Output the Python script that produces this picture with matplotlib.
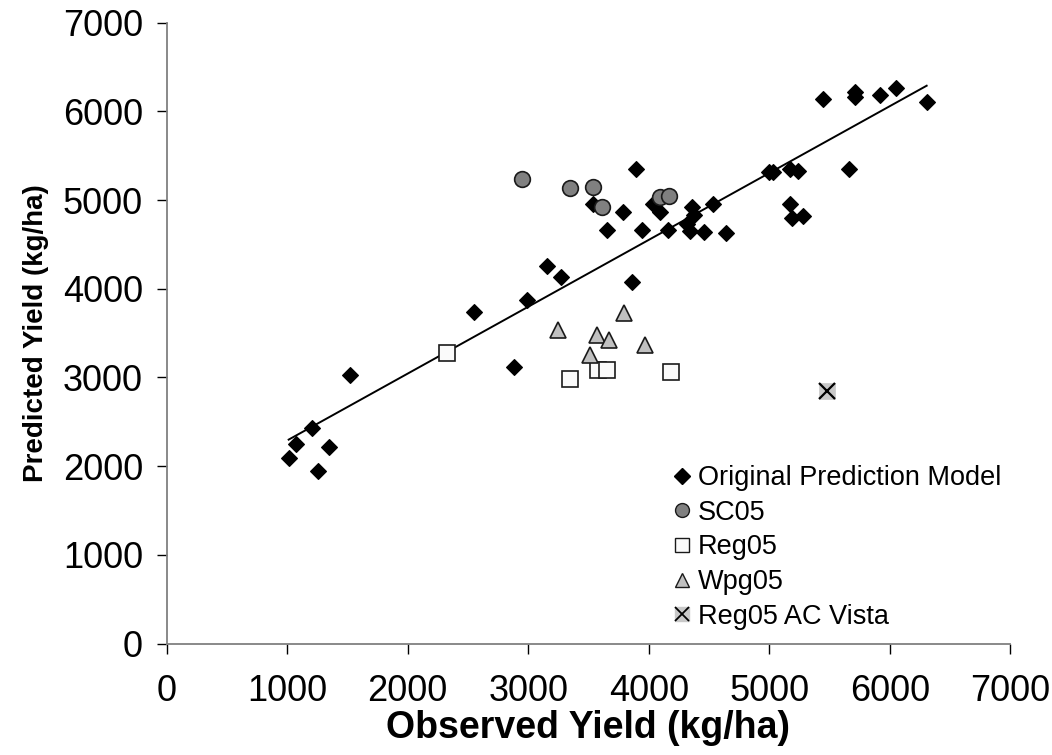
import numpy as np
import matplotlib
matplotlib.use("Agg")
import matplotlib.pyplot as plt
from matplotlib.legend_handler import HandlerTuple

plt.rcParams['font.family'] = ['Liberation Sans', 'DejaVu Sans']

# Original prediction model (observed, predicted), kg/ha
orig_obs = [5443, 5711, 5711, 5921, 6049, 6306, 5659, 5000, 5033, 5174,
            5240, 5174, 5186, 5279, 3891, 3651, 3783, 3941, 3539, 4037,
            4093, 4162, 4314, 4356, 4375, 4342, 4460, 4530, 4638, 3153,
            3272, 3863, 2550, 1521, 2882, 2987, 1203, 1073, 1012, 1349, 1253]
orig_pred = [6140, 6222, 6159, 6188, 6264, 6103, 5350, 5320, 5320, 5350,
             5331, 4956, 4795, 4821, 5350, 4659, 4869, 4659, 4956, 4952,
             4869, 4659, 4730, 4925, 4832, 4655, 4643, 4952, 4625, 4260,
             4136, 4073, 3735, 3028, 3114, 3873, 2433, 2250, 2088, 2219, 1949]

sc05_obs = [2950, 3346, 3534, 3612, 4093, 4170]
sc05_pred = [5234, 5133, 5148, 4925, 5038, 5049]

reg05_obs = [2328, 3346, 3576, 3656, 4182]
reg05_pred = [3272, 2983, 3084, 3084, 3058]

wpg05_obs = [3247, 3573, 3667, 3512, 3794, 3971]
wpg05_pred = [3535, 3479, 3422, 3255, 3729, 3363]

vista_obs = [5476]
vista_pred = [2851]

# Linear trendline of the original model
trend_slope = 0.7538
trend_intercept = 1536

x_ticks = [0, 1000, 2000, 3000, 4000, 5000, 6000, 7000]
y_ticks = [0, 1000, 2000, 3000, 4000, 5000, 6000, 7000]

fig = plt.figure(figsize=(10.52, 7.55), dpi=100)
ax = fig.add_axes([166.7 / 1052, 1 - 643.5 / 755, (1010.3 - 166.7) / 1052, (643.5 - 22.7) / 755])

ax.plot(orig_obs, orig_pred, linestyle='none', marker='D', markersize=8.4,
        markerfacecolor='black', markeredgecolor='black', markeredgewidth=0.8,
        zorder=3)
xs = np.array([min(orig_obs), max(orig_obs)])
ax.plot(xs, trend_slope * xs + trend_intercept, color='black', lw=1.4, zorder=4)

ax.plot(sc05_obs, sc05_pred, linestyle='none', marker='o', markersize=11.3,
        markerfacecolor='#808080', markeredgecolor='#1a1a1a', markeredgewidth=1.2,
        zorder=5)
ax.plot(reg05_obs, reg05_pred, linestyle='none', marker='s', markersize=11.0,
        markerfacecolor='#fafafa', markeredgecolor='#1a1a1a', markeredgewidth=1.2,
        zorder=5)
ax.plot(wpg05_obs, wpg05_pred, linestyle='none', marker='^', markersize=11.5,
        markerfacecolor='#c0c0c0', markeredgecolor='#1a1a1a', markeredgewidth=1.2,
        zorder=5)
ax.plot(vista_obs, vista_pred, linestyle='none', marker='s', markersize=12.0,
        markerfacecolor='#c8c8c8', markeredgecolor='#c8c8c8', markeredgewidth=0.5,
        zorder=5)
ax.plot(vista_obs, vista_pred, linestyle='none', marker='x', markersize=11.0,
        markeredgecolor='black', markeredgewidth=1.6, zorder=6)

ax.set_xlim(0, 7000)
ax.set_ylim(0, 7000)
ax.set_xticks(x_ticks)
ax.set_yticks(y_ticks)
ax.set_xticklabels([str(v) for v in x_ticks])
ax.set_yticklabels([str(v) for v in y_ticks])

for side in ('top', 'right'):
    ax.spines[side].set_visible(False)
for side in ('left', 'bottom'):
    ax.spines[side].set_color('#808080')
    ax.spines[side].set_linewidth(1.3)
ax.tick_params(axis='both', direction='out', length=7, width=1.0, color='black',
               labelsize=26)
ax.tick_params(axis='y', pad=10)
ax.tick_params(axis='x', pad=15)

ax.set_xlabel('Observed Yield (kg/ha)', fontsize=27, fontweight='bold', labelpad=1)
ax.set_ylabel('Predicted Yield (kg/ha)', fontsize=20, fontweight='bold', labelpad=10)

# Legend handles
h_orig = plt.Line2D([], [], linestyle='none', marker='D', markersize=8,
                    markerfacecolor='black', markeredgecolor='black')
h_sc = plt.Line2D([], [], linestyle='none', marker='o', markersize=10,
                  markerfacecolor='#808080', markeredgecolor='#1a1a1a', markeredgewidth=1.0)
h_reg = plt.Line2D([], [], linestyle='none', marker='s', markersize=10,
                   markerfacecolor='#fafafa', markeredgecolor='#1a1a1a', markeredgewidth=1.0)
h_wpg = plt.Line2D([], [], linestyle='none', marker='^', markersize=10,
                   markerfacecolor='#c0c0c0', markeredgecolor='#1a1a1a', markeredgewidth=1.0)
h_vs_bg = plt.Line2D([], [], linestyle='none', marker='s', markersize=10.5,
                     markerfacecolor='#c8c8c8', markeredgecolor='#c8c8c8')
h_vs_x = plt.Line2D([], [], linestyle='none', marker='x', markersize=9.5,
                    markeredgecolor='black', markeredgewidth=1.3)

leg = fig.legend([h_orig, h_sc, h_reg, h_wpg, (h_vs_bg, h_vs_x)],
                 ['Original Prediction Model', 'SC05', 'Reg05', 'Wpg05', 'Reg05 AC Vista'],
                 handler_map={tuple: HandlerTuple(ndivide=1)},
                 loc='upper left', bbox_to_anchor=(671 / 1052, 1 - 465 / 755),
                 frameon=False, fontsize=19.5, labelspacing=0.32,
                 handlelength=0.8, handletextpad=0.2, borderpad=0, borderaxespad=0)

fig.savefig('out.png', dpi=100, facecolor='white')
